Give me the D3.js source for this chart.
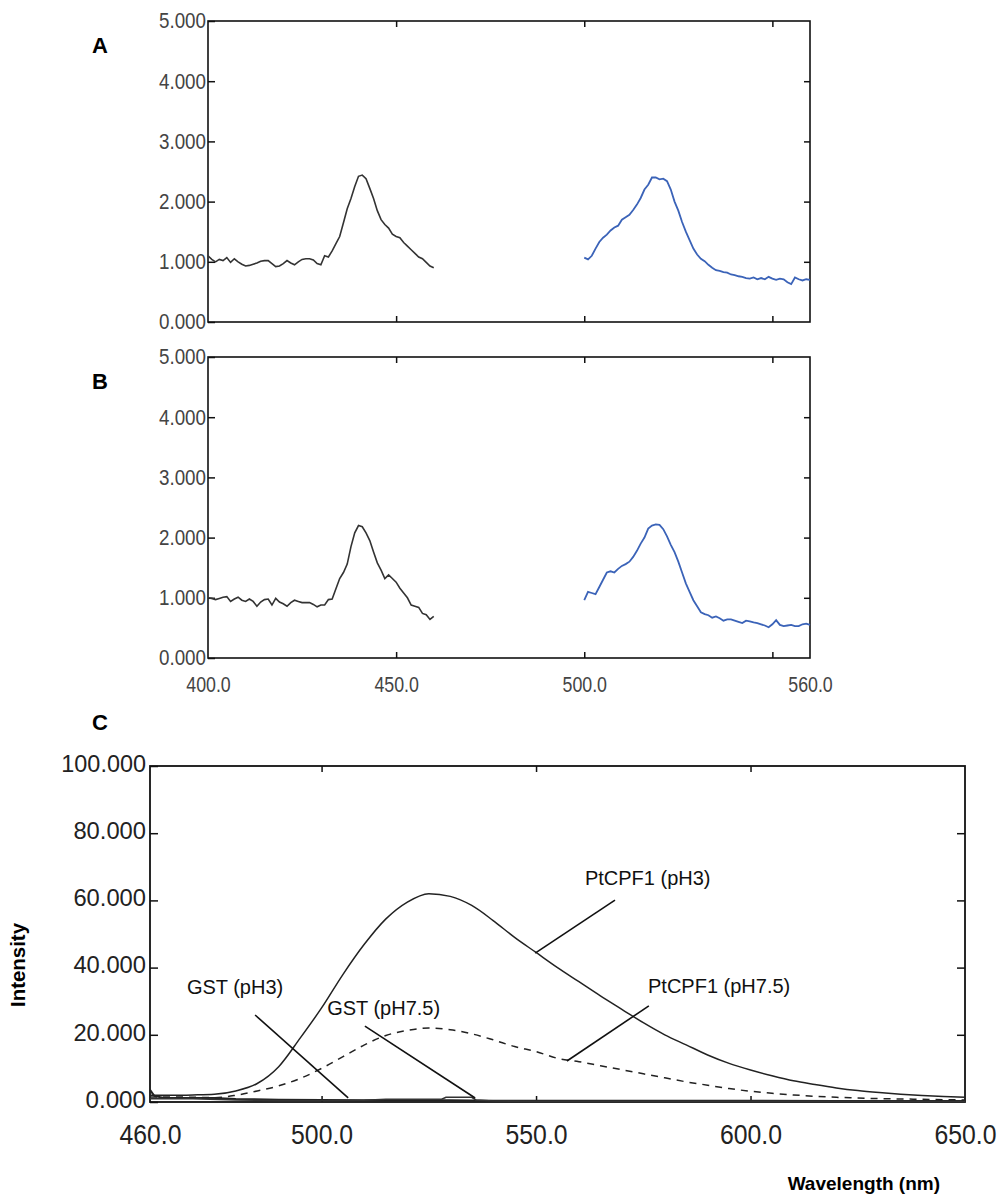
<!DOCTYPE html>
<html>
<head>
<meta charset="utf-8">
<script src="https://cdn.jsdelivr.net/npm/d3@7"></script>
<style>
  body { margin: 0; background: #fff; }
</style>
</head>
<body>
<div id="chart"></div>
<script>
// panels A and B: excitation 400-460 nm and emission 500-560 nm, 1 nm steps
var exStart = 400;
var emStart = 500;
var aEx = [1.10,1.04,1.00,1.04,1.02,1.07,0.99,1.05,1.00,0.96,0.93,0.94,0.96,0.98,1.01,1.02,1.02,0.97,0.92,0.93,
  0.97,1.02,0.98,0.95,1.00,1.04,1.05,1.05,1.03,0.97,0.95,1.10,1.08,1.18,1.30,1.42,1.65,1.88,2.05,2.25,
  2.42,2.44,2.38,2.22,2.05,1.85,1.70,1.62,1.56,1.46,1.42,1.40,1.32,1.26,1.20,1.14,1.08,1.05,0.99,0.93,0.90];
var aEm = [1.07,1.04,1.10,1.22,1.33,1.40,1.45,1.52,1.57,1.60,1.70,1.74,1.78,1.86,1.95,2.06,2.20,2.28,2.40,2.40,
  2.37,2.38,2.34,2.20,2.00,1.85,1.66,1.50,1.36,1.22,1.12,1.05,1.01,0.95,0.90,0.86,0.85,0.83,0.82,0.79,
  0.78,0.76,0.75,0.73,0.72,0.74,0.71,0.73,0.71,0.75,0.72,0.70,0.72,0.71,0.66,0.63,0.74,0.71,0.69,0.71,0.70];
var bEx = [1.00,0.99,0.97,0.99,1.01,1.02,0.94,0.98,1.01,0.96,0.94,0.98,0.94,0.86,0.93,0.97,0.98,0.88,0.99,0.93,
  0.90,0.86,0.92,0.96,0.94,0.92,0.92,0.92,0.89,0.85,0.88,0.88,0.97,0.98,1.15,1.32,1.42,1.56,1.85,2.08,
  2.20,2.18,2.08,1.95,1.76,1.58,1.46,1.32,1.38,1.32,1.26,1.16,1.08,1.00,0.88,0.86,0.84,0.74,0.72,0.64,0.69];
var bEm = [0.96,1.10,1.08,1.06,1.18,1.30,1.42,1.44,1.42,1.48,1.53,1.56,1.60,1.68,1.78,1.90,2.00,2.15,2.20,2.22,
  2.21,2.14,2.02,1.88,1.76,1.60,1.42,1.24,1.10,0.96,0.86,0.76,0.73,0.71,0.67,0.69,0.66,0.62,0.64,0.64,
  0.62,0.60,0.58,0.62,0.61,0.59,0.58,0.56,0.54,0.51,0.56,0.63,0.55,0.53,0.54,0.55,0.53,0.53,0.56,0.57,0.55];

// panel C: 460-650 nm, 5 nm steps
var cStart = 460, cStep = 5;
var ptcpf1Ph3 = [2.0,2.0,2.1,2.3,3.3,5.5,10.5,19,28,38,47,54.5,59.5,62,61.2,58.5,54,49,44.5,40,
  35.8,31.6,27.6,23.6,20,17,14,11.5,9.5,7.8,6.3,5.2,4.2,3.4,2.8,2.3,1.9,1.6,1.4];
var ptcpf1Ph75 = [1.5,1.5,1.4,1.3,2.0,3.3,4.8,7,10,13.5,17,19.8,21.3,22,21.5,20.3,18.5,16.5,15,13,
  12,10.8,9.6,8.4,7.2,6.0,5.0,4.0,3.2,2.6,2.1,1.7,1.4,1.2,1.0,0.9,0.8,0.7,0.6];
var gstPh3Wl = [460,461,463,470,475,480,490,500,510,520,530,540,550,560,580,600,620,640,650];
var gstPh3 = [3.6,1.8,1.3,1.2,1.2,0.9,0.7,0.6,0.5,0.5,0.5,0.4,0.4,0.4,0.4,0.4,0.3,0.3,0.3];
var gstPh75Wl = [460,470,480,490,500,510,515,520,528,529,535,536,540,550,560,580,600,620,640,650];
var gstPh75 = [1.0,1.0,0.6,0.4,0.4,0.5,0.8,0.8,0.8,1.4,1.4,0.6,0.3,0.2,0.2,0.2,0.2,0.2,0.2,0.2];

var abYTicks = [0, 1, 2, 3, 4, 5];
var abInnerY = [1, 2, 3, 4];
var abXLabels = [400, 450, 500, 560];
var abXMarks = [450, 500, 550];
var cYTicks = [0, 20, 40, 60, 80, 100];
var cInnerY = [20, 40, 60, 80];
var cXLabels = [460, 500, 550, 600, 650];
var cXMarks = [500, 550, 600];

// labels in data units: text anchor, leader start, leader end
var notes = [
  { text: 'PtCPF1 (pH3)', at: [561.4, 64.6], from: [568.4, 60.1], to: [549.8, 44.3] },
  { text: 'PtCPF1 (pH7.5)', at: [576.1, 32.4], from: [576.3, 28.6], to: [557.2, 12.2] },
  { text: 'GST (pH3)', at: [468.6, 32.1], from: [484.5, 25.9], to: [506.2, 1.2] },
  { text: 'GST (pH7.5)', at: [501.3, 25.9], from: [510.1, 22.6], to: [535.8, 1.2] }
];

var width = 1005, height = 1199;
var tickFont = '"Liberation Sans Narrow","Liberation Sans",Arial,sans-serif';
var textFont = '"Liberation Sans",Arial,sans-serif';

var svg = d3.select('#chart').append('svg')
  .attr('width', width)
  .attr('height', height)
  .style('background', '#fff');

function styleTicks(sel, size, perChar, color) {
  sel.select('.domain').remove();
  sel.selectAll('line').attr('stroke', '#111').attr('stroke-width', 1.5);
  sel.selectAll('text')
    .attr('font-family', tickFont)
    .attr('font-size', size)
    .attr('fill', color)
    .attr('lengthAdjust', 'spacingAndGlyphs')
    .attr('textLength', function () { return this.textContent.length * perChar; });
}

var xAB = d3.scaleLinear().domain([400, 560]).range([208, 810]);

function spectrumPanel(top, bottom, ex, em, showX) {
  var y = d3.scaleLinear().domain([0, 5]).range([bottom, top]);
  var g = svg.append('g');

  g.append('g')
    .attr('transform', `translate(${xAB(400)},0)`)
    .call(d3.axisLeft(y).tickValues(abYTicks).tickSize(-7).tickPadding(2).tickFormat(d3.format('.3f')))
    .call(s => styleTicks(s, 21.5, 9.4, '#444'));

  g.append('g')
    .attr('transform', `translate(${xAB(560)},0)`)
    .call(d3.axisRight(y).tickValues(abInnerY).tickSize(-6).tickFormat(''))
    .call(s => styleTicks(s, 21, 9.4, '#444'));

  g.append('g')
    .attr('transform', `translate(0,${top})`)
    .call(d3.axisTop(xAB).tickValues(abXMarks).tickSize(-6).tickFormat(''))
    .call(s => styleTicks(s, 21, 9.4, '#444'));

  g.append('g')
    .attr('transform', `translate(0,${bottom})`)
    .call(d3.axisBottom(xAB).tickValues(abXMarks).tickSize(-6).tickFormat(''))
    .call(s => styleTicks(s, 21, 9.4, '#444'));

  if (showX) {
    g.append('g')
      .attr('transform', `translate(0,${bottom})`)
      .call(d3.axisBottom(xAB).tickValues(abXLabels).tickSize(0).tickPadding(19).tickFormat(d3.format('.1f')))
      .call(s => styleTicks(s, 21.5, 8.9, '#444'));
  }

  g.append('rect')
    .attr('x', xAB(400)).attr('y', top)
    .attr('width', xAB(560) - xAB(400)).attr('height', bottom - top)
    .attr('fill', 'none').attr('stroke', '#111').attr('stroke-width', 1.6);

  var exLine = d3.line().x((d, i) => xAB(exStart + i)).y(d => y(d));
  var emLine = d3.line().x((d, i) => xAB(emStart + i)).y(d => y(d));

  g.append('path').attr('d', exLine(ex))
    .attr('fill', 'none').attr('stroke', '#333').attr('stroke-width', 1.6);
  g.append('path').attr('d', emLine(em))
    .attr('fill', 'none').attr('stroke', '#3b63b8').attr('stroke-width', 1.8);
}

spectrumPanel(21, 322, aEx, aEm, false);
spectrumPanel(357, 658, bEx, bEm, true);

// panel letters
svg.selectAll('text.panel')
  .data([['A', 53], ['B', 389], ['C', 730]])
  .enter().append('text')
  .attr('class', 'panel')
  .attr('x', 100).attr('y', d => d[1])
  .attr('text-anchor', 'middle')
  .attr('font-family', textFont).attr('font-weight', 'bold').attr('font-size', 22)
  .text(d => d[0]);

// panel C
var xC = d3.scaleLinear().domain([460, 650]).range([150, 965]);
var yC = d3.scaleLinear().domain([0, 100]).range([1102, 766]);
var gc = svg.append('g');

gc.append('g')
  .attr('transform', `translate(${xC(460)},0)`)
  .call(d3.axisLeft(yC).tickValues(cYTicks).tickSize(-8).tickPadding(4).tickFormat(d3.format('.3f')))
  .call(s => styleTicks(s, 24.5, 12.1, '#222'));
gc.selectAll('.tick text').attr('dy', '0.22em');

gc.append('g')
  .attr('transform', `translate(${xC(650)},0)`)
  .call(d3.axisRight(yC).tickValues(cInnerY).tickSize(-8).tickFormat(''))
  .call(s => styleTicks(s, 24, 12.1, '#222'));

gc.append('g')
  .attr('transform', `translate(0,${yC(100)})`)
  .call(d3.axisTop(xC).tickValues(cXMarks).tickSize(-6).tickFormat(''))
  .call(s => styleTicks(s, 24, 12.1, '#222'));

gc.append('g')
  .attr('transform', `translate(0,${yC(0)})`)
  .call(d3.axisBottom(xC).tickValues(cXMarks).tickSize(-6).tickFormat(''))
  .call(s => styleTicks(s, 24, 12.1, '#222'));

gc.append('g')
  .attr('transform', `translate(0,${yC(0)})`)
  .call(d3.axisBottom(xC).tickValues(cXLabels).tickSize(0).tickPadding(22).tickFormat(d3.format('.1f')))
  .call(s => styleTicks(s, 28, 12.4, '#222'));

gc.append('rect')
  .attr('x', xC(460)).attr('y', yC(100))
  .attr('width', xC(650) - xC(460)).attr('height', yC(0) - yC(100))
  .attr('fill', 'none').attr('stroke', '#111').attr('stroke-width', 1.8);

var gridLine = d3.line()
  .x((d, i) => xC(cStart + i * cStep))
  .y(d => yC(d))
  .curve(d3.curveMonotoneX);

var pairLine = d3.line()
  .x(d => xC(d[0]))
  .y(d => yC(d[1]));

gc.append('path').attr('d', pairLine(d3.zip(gstPh3Wl, gstPh3)))
  .attr('fill', 'none').attr('stroke', '#222').attr('stroke-width', 2);
gc.append('path').attr('d', pairLine(d3.zip(gstPh75Wl, gstPh75)))
  .attr('fill', 'none').attr('stroke', '#333').attr('stroke-width', 1.6);

gc.append('path').attr('d', gridLine(ptcpf1Ph75))
  .attr('fill', 'none').attr('stroke', '#222').attr('stroke-width', 1.5)
  .attr('stroke-dasharray', '7,6');
gc.append('path').attr('d', gridLine(ptcpf1Ph3))
  .attr('fill', 'none').attr('stroke', '#222').attr('stroke-width', 1.5);

// leader lines and labels
gc.selectAll('line.leader')
  .data(notes).enter().append('line')
  .attr('class', 'leader')
  .attr('x1', d => xC(d.from[0])).attr('y1', d => yC(d.from[1]))
  .attr('x2', d => xC(d.to[0])).attr('y2', d => yC(d.to[1]))
  .attr('stroke', '#111').attr('stroke-width', 1.6);

gc.selectAll('text.note')
  .data(notes).enter().append('text')
  .attr('class', 'note')
  .attr('x', d => xC(d.at[0])).attr('y', d => yC(d.at[1]))
  .attr('font-family', textFont).attr('font-size', 20)
  .attr('fill', '#111')
  .text(d => d.text);

// axis titles
svg.append('text')
  .attr('transform', 'translate(25,965) rotate(-90)')
  .attr('text-anchor', 'middle')
  .attr('font-family', textFont).attr('font-weight', 'bold').attr('font-size', 20)
  .attr('lengthAdjust', 'spacingAndGlyphs').attr('textLength', 84)
  .text('Intensity');

svg.append('text')
  .attr('x', 940).attr('y', 1190)
  .attr('text-anchor', 'end')
  .attr('font-family', tickFont).attr('font-weight', 'bold').attr('font-size', 19)
  .text('Wavelength (nm)');
</script>
</body>
</html>
